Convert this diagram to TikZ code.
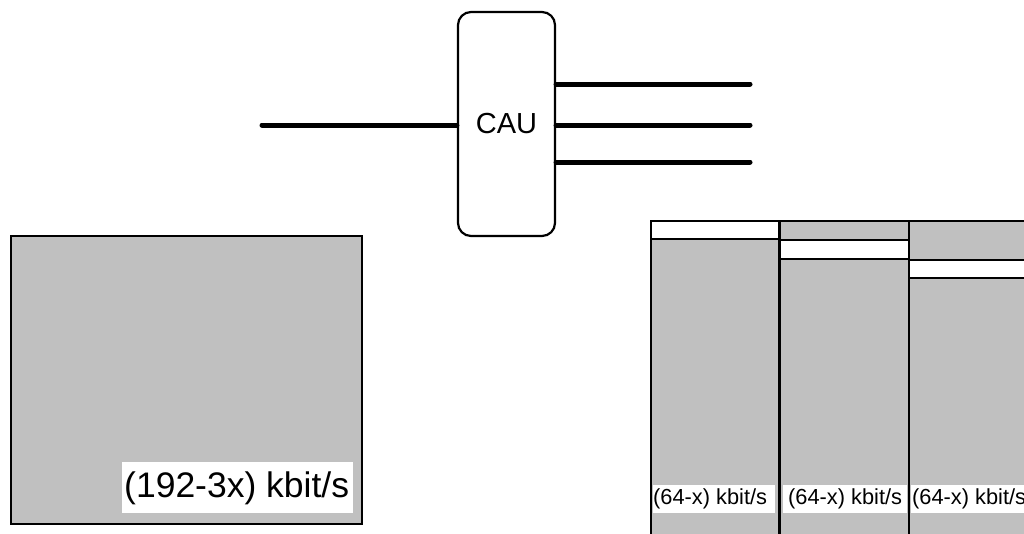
\documentclass[tikz,border=0pt]{standalone}
\usepackage{fontspec}
\setmainfont{Liberation Sans}
\definecolor{panelgray}{HTML}{C0C0C0}
\tikzset{
  thickline/.style={line width=5pt, line cap=round},
  graybox/.style={draw=black, line width=2.8pt, fill=panelgray, inner sep=0pt},
  whitestrip/.style={draw=black, line width=2.8pt, fill=white, inner sep=0pt},
  labelband/.style={fill=white, inner sep=0pt},
  ratelabel/.style={font=\fontsize{21.8}{24}\selectfont, inner sep=0pt, anchor=west},
  caubox/.style={draw=black, line width=2.2pt, rounded corners=13pt, fill=white, inner sep=0pt, font=\fontsize{29}{32}\selectfont},
}
\begin{document}
\begin{tikzpicture}[x=1pt,y=-1pt]
\useasboundingbox (0,0) rectangle (1024,533);
\clip (0,0) rectangle (1024,533);

% CAU unit and its lines
\node[caubox, minimum width=97pt, minimum height=224pt] (cau) at (506.5,124) {CAU};
\coordinate (in) at (262,125);
\coordinate (o1) at (750,84);
\coordinate (o2) at (750,125);
\coordinate (o3) at (750,162);
\draw[thickline] (in) -- (in -| cau.west);
\draw[thickline] (o1 -| cau.east) -- (o1);
\draw[thickline] (o2 -| cau.east) -- (o2);
\draw[thickline] (o3 -| cau.east) -- (o3);

% left aggregate frame
\node[graybox, minimum width=351pt, minimum height=288pt] (agg) at (186.5,380) {};
\node[labelband, minimum width=231pt, minimum height=51pt] (aggb) at (237.5,487.5) {};
\node[font=\fontsize{35.5}{40}\selectfont, inner sep=0pt, anchor=west] (aggl) at (124,488) {(192-3x) kbit/s};

% right: three channel frames
\node[graybox, minimum width=131pt, minimum height=339pt] (c3) at (974.5,390.5) {};
\node[graybox, minimum width=129pt, minimum height=339pt] (c2) at (844.5,390.5) {};
\node[graybox, minimum width=128pt, minimum height=339pt] (c1) at (715,390.5) {};

\node[whitestrip, minimum width=128pt, minimum height=18pt] (s1) at (715,230) {};
\node[whitestrip, minimum width=129pt, minimum height=19pt] (s2) at (844.5,249.5) {};
\node[whitestrip, minimum width=131pt, minimum height=18pt] (s3) at (974.5,269) {};

\node[labelband, minimum width=122pt, minimum height=28pt] (b1) at (714,499) {};
\node[labelband, minimum width=124pt, minimum height=28pt] (b2) at (845,499) {};
\node[labelband, minimum width=129pt, minimum height=28pt] (b3) at (975.5,499) {};

\node[ratelabel] (t1) at (653,499) {(64-x) kbit/s};
\node[ratelabel] (t2) at (788,499) {(64-x) kbit/s};
\node[ratelabel] (t3) at (912,499) {(64-x) kbit/s};
\end{tikzpicture}
\end{document}
